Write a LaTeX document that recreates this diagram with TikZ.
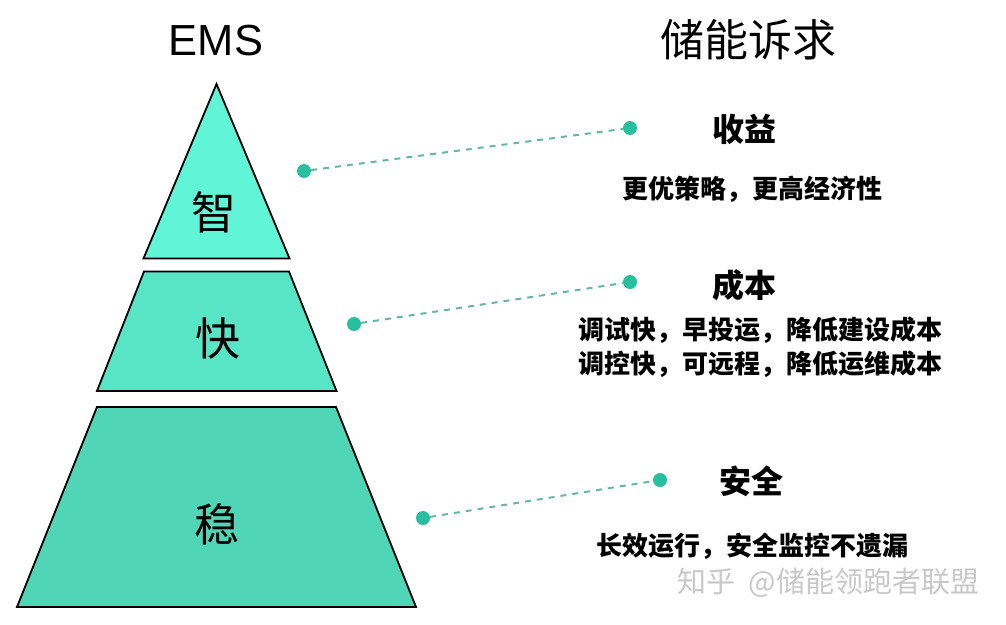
\documentclass[tikz,border=0pt]{standalone}
\usepackage{fontspec}
\setmainfont{Liberation Sans}
\newfontfamily\cjk{Noto Sans CJK SC}
\definecolor{topgreen}{HTML}{5FF5D6}
\definecolor{midgreen}{HTML}{58E5C6}
\definecolor{lowgreen}{HTML}{50D6B6}
\definecolor{dotgreen}{HTML}{27BF9E}
\definecolor{dashgreen}{HTML}{62B8A3}
\definecolor{markgrey}{HTML}{C8C8C8}
\tikzset{
    level/.style = {draw = black, line width = 1.8pt, line join = miter},
    dot/.style = {circle, fill = dotgreen, inner sep = 0pt, minimum size = 14pt},
    link/.style = {dashgreen, line width = 2pt, dash pattern = on 6pt off 6pt},
    head/.style = {font = \fontsize{44}{46}\selectfont\cjk, inner sep = 0pt},
    word/.style = {font = \fontsize{45}{46}\selectfont\cjk, inner sep = 0pt},
    need/.style = {font = \fontsize{32}{34}\selectfont\cjk\bfseries, inner sep = 0pt},
    note/.style = {font = \fontsize{26}{34}\selectfont\cjk\bfseries, inner sep = 0pt, align = center},
}
\begin{document}
\begin{tikzpicture}[x=1pt, y=-1pt]
    \useasboundingbox (0,0) rectangle (1006,624);
    % pyramid
    \draw [level, fill = topgreen] (216.5,84) -- (289.5,258.5) -- (143.5,258.5) -- cycle;
    \draw [level, fill = midgreen] (144,271.5) -- (289,271.5) -- (336.5,391) -- (97,391) -- cycle;
    \draw [level, fill = lowgreen] (97,407) -- (336,407) -- (416,607) -- (17,607) -- cycle;
    \node [word] (zhi) at (214,212) {智};
    \node [word] (kuai) at (218,338) {快};
    \node [word] (wen) at (217,524) {稳};
    % titles
    \node [font = \fontsize{43.5}{46}\selectfont, inner sep = 0pt] (ems) at (216,41) {EMS};
    \node [head] (title) at (748,40) {储能诉求};
    % links
    \node [dot] (zhidot) at (304,171) {};
    \node [dot] (shouyidot) at (630,128) {};
    \node [dot] (kuaidot) at (354,324) {};
    \node [dot] (chengbendot) at (630,282) {};
    \node [dot] (wendot) at (423,518) {};
    \node [dot] (anquandot) at (660,480) {};
    \draw [link] (zhidot) -- (shouyidot);
    \draw [link] (kuaidot) -- (chengbendot);
    \draw [link] (wendot) -- (anquandot);
    % right column
    \node [need] (shouyi) at (744,129) {收益};
    \node [note] (shouyinote) at (752,189) {更优策略，更高经济性};
    \node [need] (chengben) at (744,285) {成本};
    \node [note] (chengbennote) at (760,347) {调试快，早投运，降低建设成本\\调控快，可远程，降低运维成本};
    \node [need] (anquan) at (751,481) {安全};
    \node [note] (anquannote) at (752,546) {长效运行，安全监控不遗漏};
    \node [font = \fontsize{29}{32}\selectfont\cjk, text = markgrey, inner sep = 0pt] (mark) at (828.5,583) {知乎\hspace{13pt}@储能领跑者联盟};
\end{tikzpicture}
\end{document}
